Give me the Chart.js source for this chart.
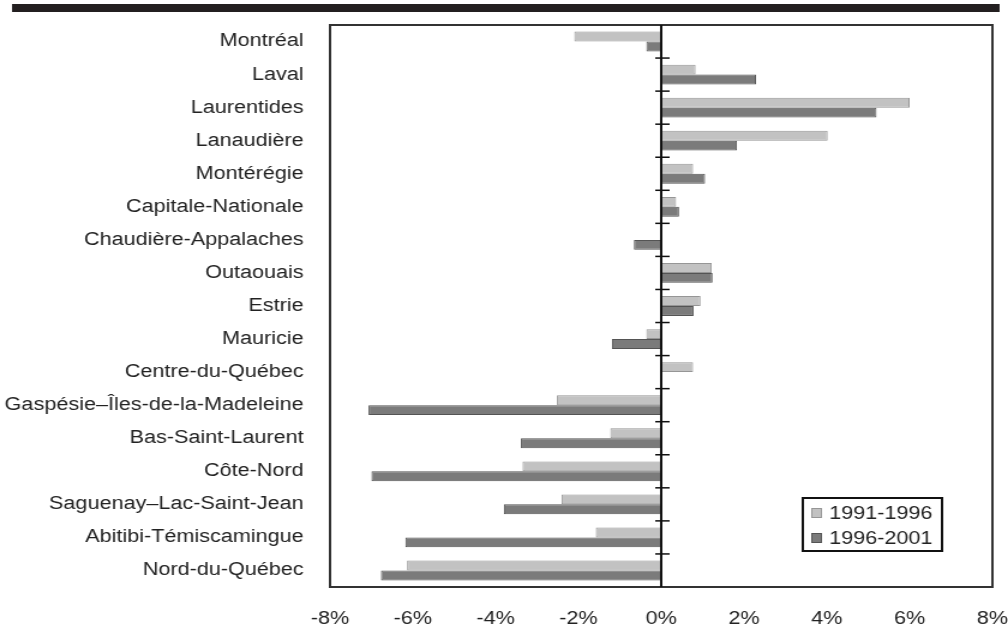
<!DOCTYPE html>
<html>
<head>
<meta charset="utf-8">
<script src="https://cdn.jsdelivr.net/npm/chart.js@4.4.1/dist/chart.umd.min.js"></script>
<style>
  html, body { margin: 0; padding: 0; background: #fff; overflow: hidden; }
  /* the source picture is stretched sideways, so the chart is drawn narrow and widened */
  #wrap { width: 840px; height: 625px; transform: scaleX(1.2); transform-origin: 0 0; }
</style>
</head>
<body>
<div id="wrap"><canvas id="chart"></canvas></div>
<script>
// Regions of Québec, top to bottom
const regions = [
    'Montréal', 'Laval', 'Laurentides', 'Lanaudière', 'Montérégie',
    'Capitale-Nationale', 'Chaudière-Appalaches', 'Outaouais', 'Estrie',
    'Mauricie', 'Centre-du-Québec', 'Gaspésie–Îles-de-la-Madeleine',
    'Bas-Saint-Laurent', 'Côte-Nord', 'Saguenay–Lac-Saint-Jean',
    'Abitibi-Témiscamingue', 'Nord-du-Québec'
];

// Population change in %
const change9196 = [-2.10, 0.83, 6.00, 4.02, 0.77, 0.36, 0, 1.22, 0.95, -0.36, 0.77, -2.52, -1.23, -3.35, -2.41, -1.58, -6.14];
const change9601 = [-0.36, 2.29, 5.20, 1.83, 1.06, 0.43, -0.66, 1.24, 0.78, -1.19, 0, -7.07, -3.39, -7.00, -3.80, -6.18, -6.77];

const seriesNames = ['1991-1996', '1996-2001'];
const xTicks = [-8, -6, -4, -2, 0, 2, 4, 6, 8];

const lightFill = '#c2c2c2', lightLine = '#969696';
const darkFill = '#7b7b7b', darkLine = '#545454';

Chart.defaults.font.family = '"Liberation Sans", Arial, sans-serif';
Chart.defaults.font.size = 18;
Chart.defaults.color = '#222';

// Frame, zero line, its tick marks, top rule and legend box
const decorations = {
    id: 'decorations',
    beforeDraw(chart) {
        const c = chart.ctx;
        c.save();
        c.fillStyle = '#231f20';
        c.fillRect(10, 4, 823, 8);
        c.restore();
    },
    afterDatasetsDraw(chart) {
        const c = chart.ctx;
        const a = chart.chartArea;
        const x = chart.scales.x, y = chart.scales.y;
        const zero = x.getPixelForValue(0);
        c.save();
        c.strokeStyle = '#333';
        c.lineWidth = 2;
        c.strokeRect(a.left, a.top, a.right - a.left, a.bottom - a.top);

        c.strokeStyle = '#111';
        c.beginPath();
        c.moveTo(zero, a.top);
        c.lineTo(zero, a.bottom);
        c.stroke();

        c.lineWidth = 1.5;
        for (let i = 1; i < regions.length; i++) {
            const yy = (y.getPixelForValue(i - 1) + y.getPixelForValue(i)) / 2;
            c.beginPath();
            c.moveTo(zero - 5, yy);
            c.lineTo(zero + 7, yy);
            c.stroke();
        }

        // legend
        const bx = a.right - 158, by = a.bottom - 89, bw = 116, bh = 53;
        c.fillStyle = '#fff';
        c.fillRect(bx, by, bw, bh);
        c.strokeStyle = '#111';
        c.lineWidth = 2;
        c.strokeRect(bx, by, bw, bh);
        const fills = [lightFill, darkFill], lines = [lightLine, darkLine];
        c.font = '18px "Liberation Sans", Arial, sans-serif';
        c.textBaseline = 'middle';
        c.textAlign = 'left';
        seriesNames.forEach((name, i) => {
            const cy = by + 15 + i * 25;
            c.fillStyle = fills[i];
            c.fillRect(bx + 7, cy - 5, 9, 10);
            c.strokeStyle = lines[i];
            c.lineWidth = 1;
            c.strokeRect(bx + 7.5, cy - 4.5, 8, 9);
            c.fillStyle = '#222';
            c.fillText(name, bx + 22, cy + 1);
        });
        c.restore();
    }
};

const ctx = document.getElementById('chart').getContext('2d');
const chart = new Chart(ctx, {
    type: 'bar',
    data: {
        labels: regions,
        datasets: [{
            label: seriesNames[0],
            data: change9196,
            backgroundColor: lightFill,
            borderColor: lightLine,
            borderWidth: 1
        }, {
            label: seriesNames[1],
            data: change9601,
            backgroundColor: darkFill,
            borderColor: darkLine,
            borderWidth: 1
        }]
    },
    options: {
        indexAxis: 'y',
        responsive: true,
        maintainAspectRatio: false,
        animation: false,
        layout: { padding: { top: 25, right: 13, bottom: 0, left: 0 } },
        categoryPercentage: 0.6,
        barPercentage: 1.0,
        plugins: {
            legend: { display: false },
            tooltip: { enabled: false }
        },
        scales: {
            x: {
                min: -8,
                max: 8,
                afterBuildTicks(scale) {
                    scale.ticks = xTicks.map(v => ({ value: v }));
                },
                afterFit(scale) {
                    scale.height = 38;
                    scale.paddingLeft = 0;
                    scale.paddingRight = 0;
                },
                grid: { display: false },
                border: { display: false },
                ticks: {
                    padding: 13,
                    maxRotation: 0,
                    callback: v => v + '%'
                }
            },
            y: {
                afterFit(scale) { scale.width = 275; },
                grid: { display: false },
                border: { display: false },
                ticks: { padding: 14, autoSkip: false }
            }
        }
    },
    plugins: [decorations]
});
</script>
</body>
</html>
